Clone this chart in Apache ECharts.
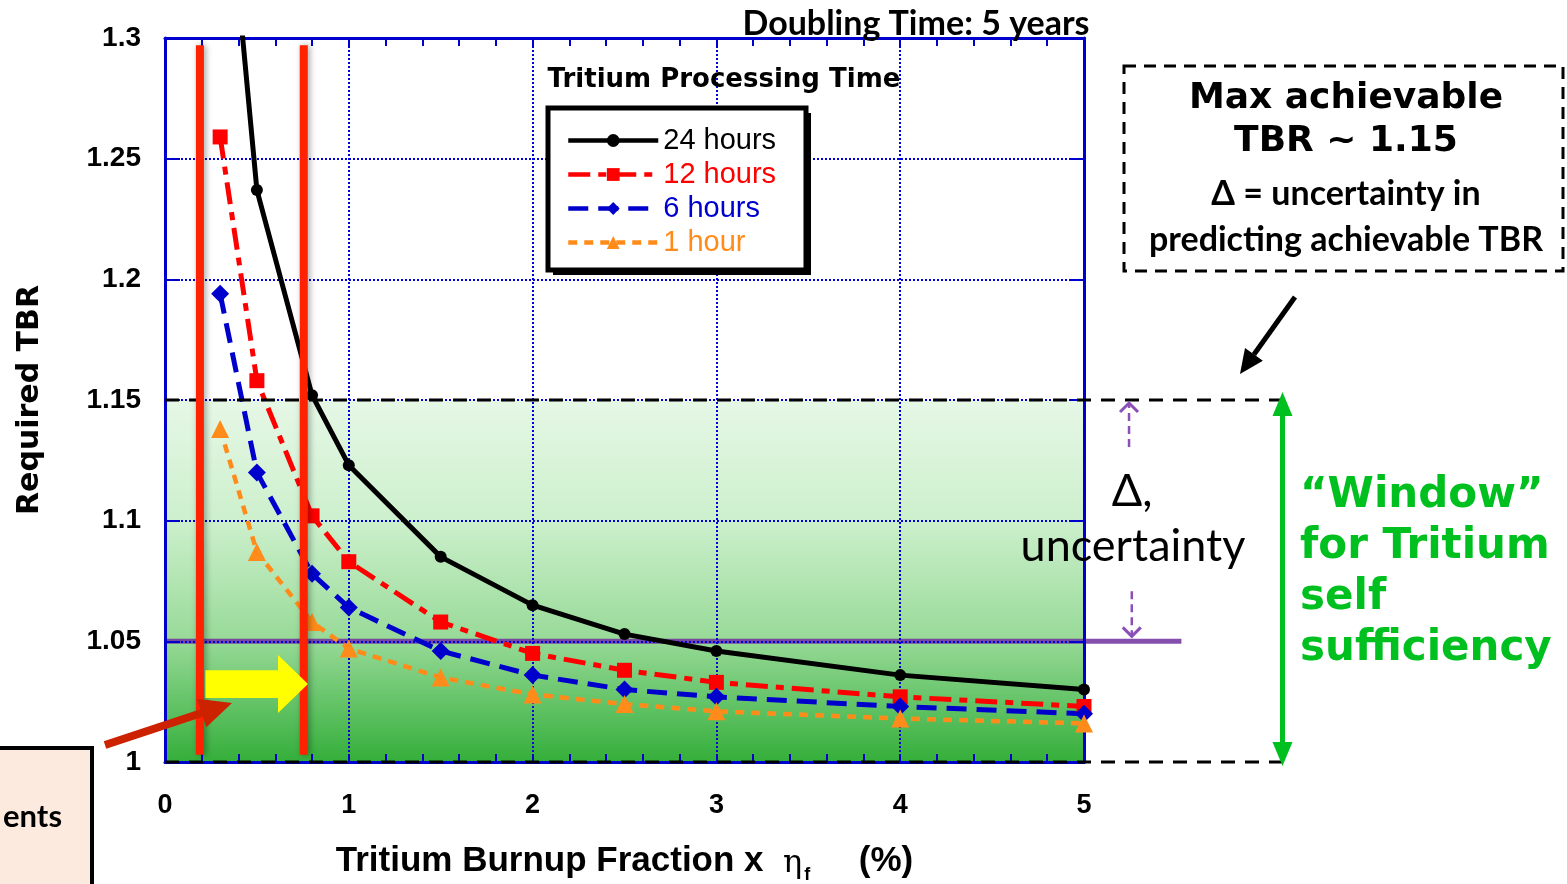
<!DOCTYPE html>
<html><head><meta charset="utf-8">
<script src="https://cdn.jsdelivr.net/npm/echarts@6/dist/echarts.min.js"></script>
<style>html,body{margin:0;padding:0;background:#fff}#c{width:1567px;height:884px}</style>
</head><body><div id="c"></div>
<script>
// ---- data ----
const burnup = [0.3, 0.5, 0.8, 1, 1.5, 2, 2.5, 3, 4, 5];
const tbr24h = [1.40, 1.237, 1.152, 1.123, 1.085, 1.065, 1.053, 1.046, 1.036, 1.030];
const tbr12h = [1.259, 1.158, 1.102, 1.083, 1.058, 1.045, 1.038, 1.033, 1.027, 1.023];
const tbr6h  = [1.194, 1.120, 1.078, 1.064, 1.046, 1.036, 1.030, 1.027, 1.023, 1.020];
const tbr1h  = [1.138, 1.087, 1.058, 1.047, 1.035, 1.028, 1.024, 1.021, 1.018, 1.016];
const seriesNames = ['24 hours', '12 hours', '6 hours', '1 hour'];
const maxTBR = 1.15, minTBR = 1.0, deltaLow = 1.05;
const windowBounds = [0.19, 0.755];   // red vertical lines (burnup %)

const pair = (xs, ys) => xs.map((x, i) => [x, ys[i]]);
const AX = '#0000cc';
const chart = echarts.init(document.getElementById('c'));

const axisCommon = {
  type: 'value',
  axisLine: { show: true, onZero: false, lineStyle: { color: AX, width: 3 } },
};
const option = {
  animation: false,
  backgroundColor: '#fff',
  grid: { left: 165, right: 483, top: 38, bottom: 122, containLabel: false, outerBoundsMode: 'none' },
  xAxis: [
    Object.assign({}, axisCommon, {
      min: 0, max: 5, interval: 1, position: 'bottom',
      axisTick: { inside: true, length: 8, lineStyle: { color: AX, width: 2 } },
      minorTick: { show: true, splitNumber: 5, length: 8, lineStyle: { color: AX, width: 2 } },
      splitLine: { show: true, lineStyle: { type: 'dotted', color: '#0000dd', width: 2 } },
      axisLabel: { margin: 30, fontSize: 27, fontWeight: 'bold', color: '#000', fontFamily: 'Liberation Sans' },
      name: 'Tritium Burnup Fraction x  {eta|η}{sub|f}     (%)',
      nameLocation: 'middle', nameGap: 76,
      nameTextStyle: {
        fontSize: 35, fontWeight: 'bold', color: '#000', fontFamily: 'Liberation Sans',
        rich: {
          eta: { fontSize: 32, fontWeight: 'normal', fontFamily: 'DejaVu Serif', color: '#000', padding: [6, 0, 0, 0] },
          sub: { fontSize: 18, fontWeight: 'bold', fontFamily: 'Liberation Sans', color: '#000', padding: [28, 0, 0, 2] }
        }
      }
    }),
    Object.assign({}, axisCommon, {
      min: 0, max: 5, interval: 1, position: 'top',
      axisTick: { inside: true, length: 8, lineStyle: { color: AX, width: 2 } },
      minorTick: { show: true, splitNumber: 5, length: 8, lineStyle: { color: AX, width: 2 } },
      splitLine: { show: false }, axisLabel: { show: false }
    })
  ],
  yAxis: [
    Object.assign({}, axisCommon, {
      min: 1, max: 1.3, interval: 0.05, position: 'left',
      axisTick: { inside: true, length: 15, lineStyle: { color: AX, width: 2 } },
      splitLine: { show: true, lineStyle: { type: 'dotted', color: '#0000dd', width: 2 } },
      axisLabel: { margin: 24, fontSize: 28, fontWeight: 'bold', color: '#000', fontFamily: 'Liberation Sans',
        formatter: v => String(parseFloat(v.toFixed(2))) },
      name: 'Required TBR', nameLocation: 'middle', nameGap: 120,
      nameTextStyle: { fontSize: 30, fontWeight: 'bold', color: '#000', fontFamily: 'DejaVu Sans' }
    }),
    Object.assign({}, axisCommon, {
      min: 1, max: 1.3, interval: 0.05, position: 'right',
      axisTick: { inside: true, length: 15, lineStyle: { color: AX, width: 2 } },
      splitLine: { show: false }, axisLabel: { show: false }
    })
  ],
  legend: {
    orient: 'vertical', left: 566, top: 126, itemWidth: 90, itemHeight: 16, itemGap: 5, padding: 0,
    lineStyle: { width: 4.5 },
    textStyle: { fontSize: 29, fontFamily: 'Liberation Sans' },
    data: [
      { name: seriesNames[0], textStyle: { color: '#000' } },
      { name: seriesNames[1], textStyle: { color: '#ff0000' } },
      { name: seriesNames[2], textStyle: { color: '#0000cc' } },
      { name: seriesNames[3], textStyle: { color: '#ff8c1a' } }
    ]
  },
  series: [
    { name: seriesNames[0], type: 'line', data: pair(burnup, tbr24h), z: 4,
      symbol: 'circle', symbolSize: 12, itemStyle: { color: '#000' },
      lineStyle: { color: '#000', width: 5 } },
    { name: seriesNames[1], type: 'line', data: pair(burnup, tbr12h), z: 3,
      symbol: 'rect', symbolSize: 15, itemStyle: { color: '#ff0000' },
      lineStyle: { color: '#ff0000', width: 5, type: [22, 8, 8, 8] } },
    { name: seriesNames[2], type: 'line', data: pair(burnup, tbr6h), z: 3,
      symbol: 'diamond', symbolSize: 18, itemStyle: { color: '#0000cc' },
      lineStyle: { color: '#0000cc', width: 5, type: [20, 10] } },
    { name: seriesNames[3], type: 'line', data: pair(burnup, tbr1h), z: 3,
      symbol: 'triangle', symbolSize: 18, itemStyle: { color: '#ff8c1a' },
      lineStyle: { color: '#ff8c1a', width: 4.5, type: [9, 7] } },
    ...windowBounds.map(b => ({
      type: 'line', silent: true, z: 6, symbol: 'none',
      data: [[b, 1.297], [b, 1.003]],
      lineStyle: { color: '#ff2200', width: 8, shadowBlur: 6, shadowColor: 'rgba(0,0,0,0.35)', shadowOffsetX: 2 }
    }))
  ]
};
chart.setOption(option);

// ---- annotations positioned through the axes' scales ----
const P = (x, y) => chart.convertToPixel({ xAxisIndex: 0, yAxisIndex: 0 }, [x, y]);
const G = [];
function arrowHead(x1, y1, x2, y2, len, w, color, z) {
  const a = Math.atan2(y2 - y1, x2 - x1);
  const bx = x2 - len * Math.cos(a), by = y2 - len * Math.sin(a);
  const nx = -Math.sin(a) * w / 2, ny = Math.cos(a) * w / 2;
  G.push({ type: 'polygon', z, shape: { points: [[x2, y2], [bx + nx, by + ny], [bx - nx, by - ny]] }, style: { fill: color } });
  return [bx, by];
}
function arrow(x1, y1, x2, y2, color, width, len, w, z, dash) {
  const [bx, by] = arrowHead(x1, y1, x2, y2, len, w, color, z);
  G.push({ type: 'line', z, shape: { x1, y1, x2: bx, y2: by }, style: { stroke: color, lineWidth: width, lineDash: dash || null } });
}
function openHead(x2, y2, dir, size, color, width, z) {
  G.push({ type: 'polyline', z, shape: { points: [[x2 - size, y2 - dir * size], [x2, y2], [x2 + size, y2 - dir * size]] },
    style: { stroke: color, lineWidth: width, fill: null } });
}
function text(t, x, y, font, fill, align, z) {
  G.push({ type: 'text', z: z || 20, style: { text: t, x, y, font, fill, align: align || 'center', textAlign: align || 'center', verticalAlign: 'middle', textVerticalAlign: 'middle' } });
}

const pTL = P(0, maxTBR), pBR = P(5, minTBR);
// green window gradient
G.push({ type: 'rect', z: -1, shape: { x: pTL[0], y: pTL[1], width: pBR[0] - pTL[0], height: pBR[1] - pTL[1] },
  style: { fill: new echarts.graphic.LinearGradient(0, 0, 0, 1, [
    { offset: 0, color: '#e6f7e6' }, { offset: 0.33, color: '#cdf0cd' },
    { offset: 0.66, color: '#98da98' }, { offset: 1, color: '#34ae3a' }]) } });
// purple 1.05 line
const pl0 = P(0, deltaLow), pl1 = P(5.53, deltaLow);
G.push({ type: 'line', z: -0.5, shape: { x1: pl0[0], y1: pl0[1], x2: pl1[0], y2: pl1[1] }, style: { stroke: 'rgba(112,48,160,0.85)', lineWidth: 5 } });
// dashed black limit lines
[maxTBR, minTBR].forEach(v => {
  const a = P(0, v), b = P(6.08, v);
  G.push({ type: 'line', z: 5, shape: { x1: a[0], y1: a[1], x2: b[0], y2: b[1] }, style: { stroke: '#000', lineWidth: 3, lineDash: [14, 10] } });
});
// green double arrow
const gTop = P(6.08, maxTBR), gBot = P(6.08, minTBR);
const gMid = (gTop[1] + gBot[1]) / 2;
arrow(gTop[0], gMid, gTop[0], gTop[1] - 8, '#00c020', 5, 24, 20, 6);
arrow(gTop[0], gMid, gTop[0], gBot[1] + 4, '#00c020', 5, 24, 20, 6);
// purple dashed arrows for delta
const up = P(5.245, maxTBR), dn = P(5.26, deltaLow);
G.push({ type: 'line', z: 6, shape: { x1: up[0], y1: up[1] + 47, x2: up[0], y2: up[1] + 4 }, style: { stroke: '#8a50b8', lineWidth: 2.5, lineDash: [8, 5] } });
openHead(up[0], up[1] + 3, -1, 9, '#8a50b8', 3, 6);
G.push({ type: 'line', z: 6, shape: { x1: dn[0], y1: dn[1] - 50, x2: dn[0], y2: dn[1] - 6 }, style: { stroke: '#8a50b8', lineWidth: 2.5, lineDash: [8, 5] } });
openHead(dn[0], dn[1] - 5, 1, 9, '#8a50b8', 3, 6);
// yellow arrow
const ya = [P(0.22, 1.038), P(0.615, 1.038), P(0.615, 1.0443), P(0.778, 1.0323), P(0.615, 1.0203), P(0.615, 1.0265), P(0.22, 1.0265)];
G.push({ type: 'polygon', z: 7, shape: { points: ya }, style: { fill: '#ffff00' } });
// dark red arrow from the bottom-left box
arrow(105, 745, 232, 703, '#cc2200', 8, 32, 30, 8);
// black arrow from the TBR box
arrow(1295, 297, 1240, 374, '#000', 5, 24, 22, 8);
// legend box with shadow
G.push({ type: 'rect', z: 2.8, shape: { x: 553, y: 113, width: 258, height: 162 }, style: { fill: '#000' } });
G.push({ type: 'rect', z: 2.9, shape: { x: 548, y: 108, width: 258, height: 162 }, style: { fill: '#fff', stroke: '#000', lineWidth: 5 } });
// dashed info box
G.push({ type: 'rect', z: 5, shape: { x: 1124, y: 66, width: 439, height: 205 }, style: { fill: '#fff', stroke: '#000', lineWidth: 3, lineDash: [12, 8] } });
// bottom-left box
G.push({ type: 'rect', z: 5, shape: { x: -10, y: 748, width: 102, height: 150 }, style: { fill: '#fdeadf', stroke: '#000', lineWidth: 4 } });

text('Doubling Time: 5 years', 916, 24, 'bold 34px Lato', '#000');
text('Tritium Processing Time', 724, 80, 'bold 26px "DejaVu Sans"', '#000');
text('Max achievable', 1346, 99, 'bold 36px "DejaVu Sans"', '#000');
text('TBR ~ 1.15', 1346, 142, 'bold 36px "DejaVu Sans"', '#000');
text('Δ = uncertainty in', 1346, 194, 'bold 34px Lato', '#000');
text('predicting achievable TBR', 1346, 240, 'bold 34px Lato', '#000');
text('Δ,', 1132, 491, '45px Lato', '#000');
text('uncertainty', 1133, 546, '45px Lato', '#000');
['“Window”', 'for Tritium', 'self', 'sufficiency'].forEach((t, i) =>
  text(t, 1300, 496 + i * 51, 'bold 42px "DejaVu Sans"', '#00c020', 'left'));
text('ents', 62, 817, 'bold 31px Lato', '#000', 'right');

chart.setOption({ graphic: { elements: G } });
</script></body></html>
